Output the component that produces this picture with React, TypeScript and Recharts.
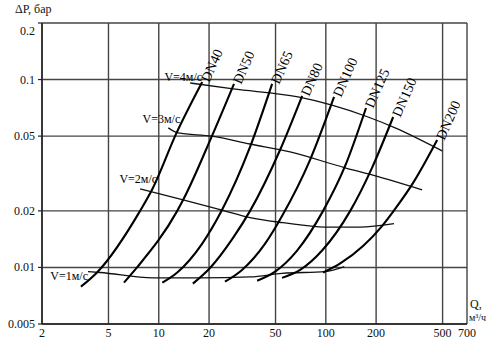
import { LineChart, Line, XAxis, YAxis, CartesianGrid, ReferenceDot } from 'recharts';

const FONT = '"Liberation Serif", "DejaVu Serif", serif';

const qTicks = [2, 5, 10, 20, 50, 100, 200, 500, 700];
const pTicks = [0.005, 0.01, 0.02, 0.05, 0.1, 0.2];

// DN curves, Q (m3/h) vs dP (bar), read bottom -> top
const dn40 = [
  { q: 3.42, p: 0.0079 }, { q: 4.27, p: 0.0094 }, { q: 7.73, p: 0.02 },
  { q: 9.11, p: 0.0259 }, { q: 12.7, p: 0.0514 }, { q: 18.2, p: 0.097 },
];
const dn50 = [
  { q: 6.19, p: 0.0083 }, { q: 7.41, p: 0.01 }, { q: 12.9, p: 0.02 },
  { q: 14.0, p: 0.0229 }, { q: 20.8, p: 0.05 }, { q: 28.2, p: 0.0948 },
];
const dn65 = [
  { q: 10.5, p: 0.0083 }, { q: 12.9, p: 0.0094 }, { q: 18.2, p: 0.0134 },
  { q: 23.9, p: 0.0202 }, { q: 35.2, p: 0.0438 }, { q: 47.7, p: 0.0948 },
];
const dn80 = [
  { q: 16.0, p: 0.0082 }, { q: 20.0, p: 0.0098 }, { q: 27.9, p: 0.0144 },
  { q: 35.2, p: 0.02 }, { q: 53.2, p: 0.0422 }, { q: 72.1, p: 0.0818 },
];
const dn100 = [
  { q: 24.9, p: 0.0084 }, { q: 31.5, p: 0.0097 }, { q: 43.3, p: 0.0134 },
  { q: 54.7, p: 0.0188 }, { q: 80.5, p: 0.0374 }, { q: 112, p: 0.0808 },
];
const dn125 = [
  { q: 38.8, p: 0.0085 }, { q: 49.7, p: 0.0095 }, { q: 67.3, p: 0.0123 },
  { q: 96.3, p: 0.02 }, { q: 130.5, p: 0.0347 }, { q: 174, p: 0.0706 },
];
const dn150 = [
  { q: 54.7, p: 0.0088 }, { q: 70.2, p: 0.0097 }, { q: 95.0, p: 0.0123 },
  { q: 140, p: 0.02 }, { q: 189, p: 0.0339 }, { q: 253, p: 0.0632 },
];
const dn200 = [
  { q: 96.3, p: 0.0094 }, { q: 122, p: 0.0105 }, { q: 167, p: 0.013 },
  { q: 217, p: 0.0166 }, { q: 260, p: 0.0205 }, { q: 333, p: 0.0282 },
  { q: 464, p: 0.0477 },
];

// constant velocity lines
const v1 = [
  { q: 3.77, p: 0.0095 }, { q: 4.45, p: 0.0094 }, { q: 9.24, p: 0.0088 },
  { q: 17.7, p: 0.0088 }, { q: 35.2, p: 0.0089 }, { q: 54.7, p: 0.0093 },
  { q: 99, p: 0.0095 }, { q: 129, p: 0.0101 },
];
const v2 = [
  { q: 7.73, p: 0.0262 }, { q: 14.0, p: 0.0229 }, { q: 23.9, p: 0.0202 },
  { q: 35.2, p: 0.0184 }, { q: 55.5, p: 0.0173 }, { q: 99, p: 0.0164 },
  { q: 160, p: 0.0164 }, { q: 256, p: 0.0171 },
];
const v3 = [
  { q: 11.4, p: 0.0553 }, { q: 13.05, p: 0.052 }, { q: 20.8, p: 0.05 },
  { q: 35.2, p: 0.0454 }, { q: 61.1, p: 0.0412 }, { q: 130.5, p: 0.0339 },
  { q: 189, p: 0.0311 }, { q: 377, p: 0.0259 },
];
const v4 = [
  { q: 15.4, p: 0.0959 }, { q: 27.9, p: 0.0891 }, { q: 68.2, p: 0.0808 },
  { q: 107.5, p: 0.0733 }, { q: 179, p: 0.0632 }, { q: 260, p: 0.0553 },
  { q: 497, p: 0.0417 },
];

const dnCurves = [
  { name: 'DN40', data: dn40 }, { name: 'DN50', data: dn50 },
  { name: 'DN65', data: dn65 }, { name: 'DN80', data: dn80 },
  { name: 'DN100', data: dn100 }, { name: 'DN125', data: dn125 },
  { name: 'DN150', data: dn150 }, { name: 'DN200', data: dn200 },
];
const vLines = [
  { name: 'V=1м/с', data: v1, dx: 0, dy: 8 },
  { name: 'V=2м/с', data: v2, dx: 17, dy: -6 },
  { name: 'V=3м/с', data: v3, dx: 12, dy: -5 },
  { name: 'V=4м/с', data: v4, dx: 12, dy: -2 },
];

const YTick = ({ x, y, payload }: any) => (
  <text x={x} y={y + (payload.value === 0.2 ? 12 : 4)} textAnchor="end"
    fontSize={12} fontFamily={FONT} fill="#111">
    {String(payload.value)}
  </text>
);

const XTick = ({ x, y, payload }: any) => (
  <text x={x} y={y + 9} textAnchor="middle" fontSize={12} fontFamily={FONT} fill="#111">
    {String(payload.value)}
  </text>
);

export default function App() {
  return (
    <div style={{ position: 'absolute', left: 0, top: 0, width: 497, height: 346, background: '#fff' }}>
      <LineChart width={497} height={346} margin={{ top: 23, right: 30, bottom: 0, left: 0 }}>
        <CartesianGrid stroke="#444" strokeWidth={1.4} />
        <XAxis dataKey="q" type="number" scale="log" domain={[2, 700]} ticks={qTicks}
          interval={0} allowDataOverflow height={22} tickLine={false} tickSize={4} tickMargin={0}
          axisLine={{ stroke: '#222', strokeWidth: 1.5 }} tick={<XTick />} />
        <YAxis type="number" scale="log" domain={[0.005, 0.2]} ticks={pTicks}
          interval={0} allowDataOverflow width={42} tickSize={4} tickMargin={3}
          tickLine={{ stroke: '#222', strokeWidth: 1.2 }}
          axisLine={{ stroke: '#222', strokeWidth: 1.5 }} tick={<YTick />} />
        {vLines.map((v) => (
          <Line key={v.name} name={v.name} data={v.data} dataKey="p" type="monotone"
            stroke="#111" strokeWidth={1.3} dot={false} isAnimationActive={false} />
        ))}
        {dnCurves.map((c) => (
          <Line key={c.name} name={c.name} data={c.data} dataKey="p" type="monotone"
            stroke="#000" strokeWidth={2.1} dot={false} isAnimationActive={false} />
        ))}
        {dnCurves.map((c) => {
          const top = c.data[c.data.length - 1];
          return (
            <ReferenceDot key={'l' + c.name} x={top.q} y={top.p} r={0} ifOverflow="visible"
              shape={(p: any) => (
                <text x={p.cx + 7} y={p.cy + 1} transform={`rotate(-66 ${p.cx + 7} ${p.cy + 1})`}
                  fontSize={14} fontFamily={FONT} fill="#000">{c.name}</text>
              )} />
          );
        })}
        {vLines.map((v) => {
          const s = v.data[0];
          return (
            <ReferenceDot key={'l' + v.name} x={s.q} y={s.p} r={0} ifOverflow="visible"
              shape={(p: any) => (
                <text x={p.cx + v.dx} y={p.cy + v.dy} textAnchor="end"
                  fontSize={12} fontFamily={FONT} fill="#000">{v.name}</text>
              )} />
          );
        })}
      </LineChart>
      <div style={{ position: 'absolute', left: 15, top: 3, fontFamily: FONT, fontSize: 12, lineHeight: 1, color: '#111' }}>ΔP, бар</div>
      <div style={{ position: 'absolute', left: 470, top: 298, fontFamily: FONT, fontSize: 12, lineHeight: 1, color: '#111' }}>Q,</div>
      <div style={{ position: 'absolute', left: 469, top: 313, fontFamily: FONT, fontSize: 10, lineHeight: 1, color: '#111' }}>м³/ч</div>
    </div>
  );
}
